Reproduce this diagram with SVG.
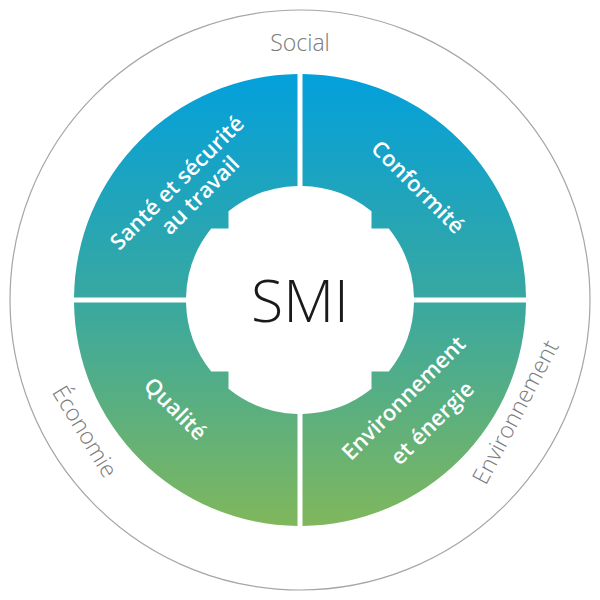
<svg xmlns="http://www.w3.org/2000/svg" width="600" height="600" viewBox="0 0 600 600">
  <defs>
    <linearGradient id="ringGrad" gradientUnits="userSpaceOnUse" x1="0" y1="74" x2="0" y2="526">
      <stop offset="0" stop-color="#03a0dc"/>
      <stop offset="0.5" stop-color="#38a8a0"/>
      <stop offset="1" stop-color="#80b75c"/>
    </linearGradient>
  </defs>
  <style>
    .sector { fill: url(#ringGrad); }
    .seclabel { font-family: "Open Sans", "Noto Sans", "Liberation Sans", sans-serif; font-weight: 600; font-size: 22px; fill: #ffffff; text-anchor: middle; }
    .outer { font-family: "Open Sans", "Noto Sans", "Liberation Sans", sans-serif; font-weight: 300; font-size: 23px; fill: #7a7a7a; text-anchor: middle; }
    .core { font-family: "Open Sans", "Noto Sans", "Liberation Sans", sans-serif; font-weight: 300; font-size: 59px; fill: #1a1a1a; text-anchor: middle; }
  </style>
  <rect width="600" height="600" fill="#ffffff"/>

  <g id="outer-ring">
    <circle cx="300" cy="300" r="290" fill="none" stroke="#a5a5a5" stroke-width="1.2"/>
    <text class="outer" x="300" y="51">Social</text>
    <text class="outer" transform="translate(78,435.6) rotate(58.7)">Économie</text>
    <text class="outer" transform="translate(522.5,415.8) rotate(-62.4)">Environnement</text>
  </g>

  <g id="sante-securite">
    <path class="sector" d="M 74.01 297.5 A 226 226 0 0 1 297.5 74.01 L 297.5 186.03 A 114 114 0 0 0 228.5 211.21 L 228.5 228.5 L 211.21 228.5 A 114 114 0 0 0 186.03 297.5 Z"/>
    <text class="seclabel" transform="translate(182.3,188.1) rotate(-45)">Santé et sécurité</text>
    <text class="seclabel" transform="translate(205.5,200.5) rotate(-45)">au travail</text>
  </g>

  <g id="conformite">
    <path class="sector" d="M 302.5 74.01 A 226 226 0 0 1 525.99 297.5 L 413.97 297.5 A 114 114 0 0 0 388.79 228.5 L 371.5 228.5 L 371.5 211.21 A 114 114 0 0 0 302.5 186.03 Z"/>
    <text class="seclabel" transform="translate(412.5,192.5) rotate(45)">Conformité</text>
  </g>

  <g id="environnement-energie">
    <path class="sector" d="M 525.99 302.5 A 226 226 0 0 1 302.5 525.99 L 302.5 413.97 A 114 114 0 0 0 371.5 388.79 L 371.5 371.5 L 388.79 371.5 A 114 114 0 0 0 413.97 302.5 Z"/>
    <text class="seclabel" transform="translate(409,403.4) rotate(-45)">Environnement</text>
    <text class="seclabel" transform="translate(437.6,428.4) rotate(-45)">et énergie</text>
  </g>

  <g id="qualite">
    <path class="sector" d="M 297.5 525.99 A 226 226 0 0 1 74.01 302.5 L 186.03 302.5 A 114 114 0 0 0 211.21 371.5 L 228.5 371.5 L 228.5 388.79 A 114 114 0 0 0 297.5 413.97 Z"/>
    <text class="seclabel" transform="translate(170,414.2) rotate(45)">Qualité</text>
  </g>

  <g id="smi">
    <text class="core" x="300" y="322">SMI</text>
  </g>
</svg>
